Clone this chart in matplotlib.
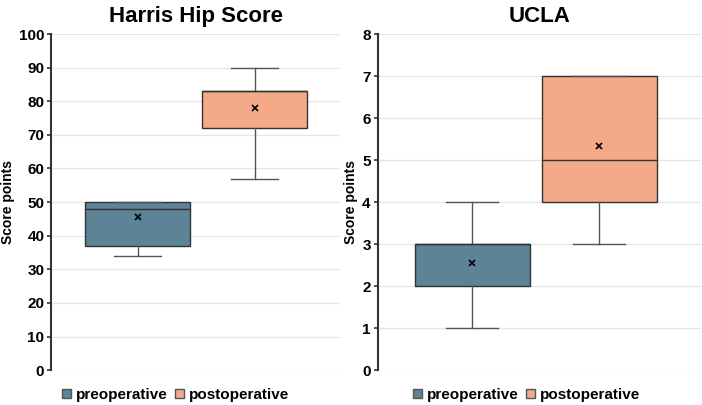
#!/usr/bin/env python3

import matplotlib.pyplot as plt
from matplotlib.patches import Patch

plt.rcParams['font.family'] = ['Liberation Sans', 'DejaVu Sans']
plt.rcParams['font.weight'] = 'bold'

groups = ["preoperative", "postoperative"]
colors = ["#5c8396", "#f4aa88"]

# box stats: whislo, q1, med, q3, whishi, mean
harris_stats = [
    (34, 37, 48, 50, 50, 45.5),
    (57, 72, 83, 83, 90, 78.0),
]
ucla_stats = [
    (1, 2, 3, 3, 4, 2.55),
    (3, 4, 5, 7, 7, 5.33),
]

panels = [
    ("Harris Hip Score", harris_stats, 100, 10, [0.073, 0.086, 0.411, 0.830], [0.30, 0.705], 0.365),
    ("UCLA", ucla_stats, 8, 1, [0.538, 0.086, 0.460, 0.830], [0.293, 0.686], 0.356),
]


def main():
    fig = plt.figure(figsize=(7.02, 4.05), dpi=100)

    for title, stats, ymax, step, rect, pos, width in panels:
        ax = fig.add_axes(rect)
        bxp_stats = []
        for s in stats:
            bxp_stats.append(dict(whislo=s[0], q1=s[1], med=s[2], q3=s[3],
                                  whishi=s[4], mean=s[5], fliers=[]))
        bp = ax.bxp(bxp_stats, positions=pos, widths=width, patch_artist=True,
                    showmeans=True, showfliers=False,
                    boxprops=dict(edgecolor="#333333", linewidth=1.0),
                    medianprops=dict(color="#333333", linewidth=1.0),
                    whiskerprops=dict(color="#555555", linewidth=1.0),
                    capprops=dict(color="#555555", linewidth=1.0),
                    meanprops=dict(marker="x", markeredgecolor="black",
                                   markersize=4, markeredgewidth=1.2),
                    capwidths=width * 0.45, zorder=3)
        for patch, c in zip(bp["boxes"], colors):
            patch.set_facecolor(c)

        ax.set_xlim(0, 1)
        ax.set_ylim(0, ymax)
        ax.set_yticks(range(0, ymax + 1, step))
        ax.set_xticks([])
        ax.tick_params(axis="y", labelsize=11, length=3, width=1.2,
                       color="#333333", pad=2)
        for lab in ax.get_yticklabels():
            lab.set_fontweight("bold")
        ax.yaxis.grid(True, color="#e6e6e6", linewidth=1.0, zorder=0)
        ax.set_axisbelow(True)
        for side in ["top", "right", "bottom"]:
            ax.spines[side].set_visible(False)
        ax.spines["left"].set_color("#333333")
        ax.spines["left"].set_linewidth(1.5)
        ax.set_ylabel("Score points", fontsize=10, fontweight="bold", labelpad=3)
        ax.set_title(title, fontsize=16, fontweight="bold", pad=9)

        handles = [Patch(facecolor=c, edgecolor="#555555", label=g)
                   for g, c in zip(groups, colors)]
        cx = 0.25 if rect[0] < 0.5 else 0.75
        fig.legend(handles=handles, loc="center", bbox_to_anchor=(cx, 0.025),
                   ncol=2, frameon=False, prop=dict(size=11, weight="bold"),
                   handlelength=0.6, handleheight=0.6, handletextpad=0.3,
                   columnspacing=0.5)

    plt.savefig("out.png", dpi=100)


if __name__ == '__main__':
    main()
